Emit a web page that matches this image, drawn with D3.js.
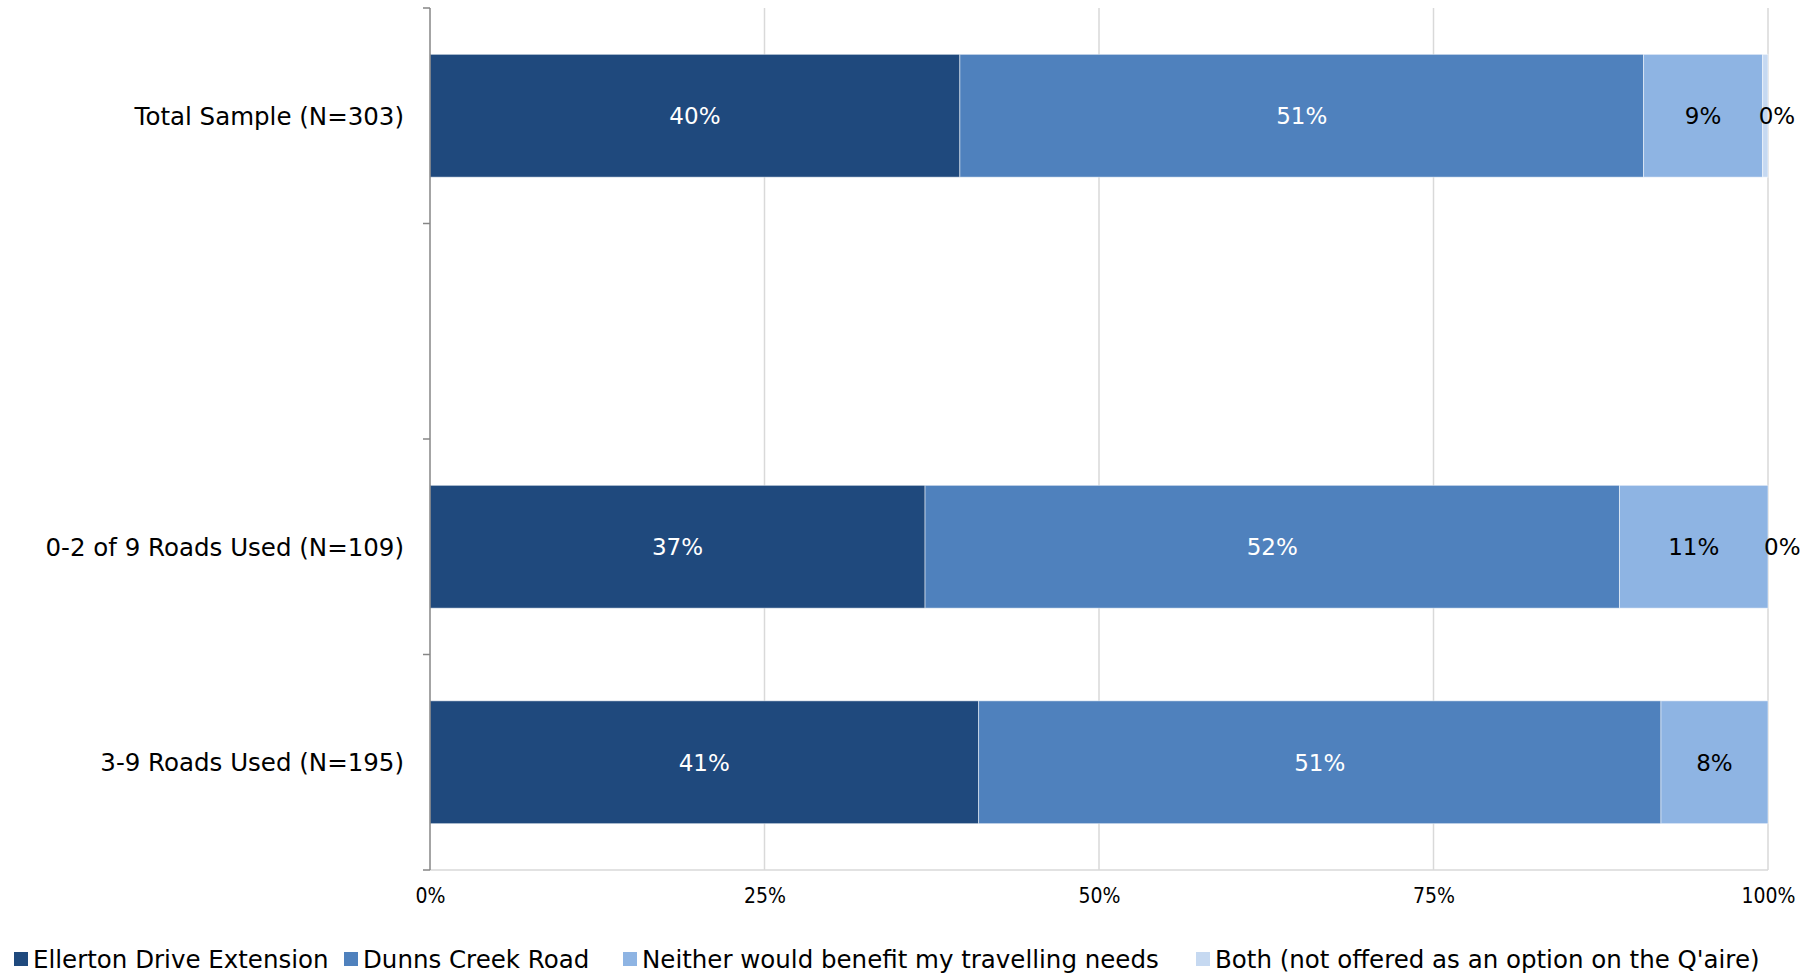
<!DOCTYPE html>
<html>
<head>
<meta charset="utf-8">
<script src="https://cdn.jsdelivr.net/npm/d3@7"></script>
<style>
  html, body { margin: 0; padding: 0; background: #fff; }
  svg { display: block; font-family: "DejaVu Sans", sans-serif; }
</style>
</head>
<body>
<svg id="chart" width="1816" height="975"></svg>
<script>
// Rows of the chart, top to bottom (the empty string is a spacer row)
const categories = ["Total Sample (N=303)", "", "0-2 of 9 Roads Used (N=109)", "3-9 Roads Used (N=195)"];
// Series names for the stacked segments
const seriesNames = [
  "Ellerton Drive Extension",
  "Dunns Creek Road",
  "Neither would benefit my travelling needs",
  "Both (not offered as an option on the Q'aire)"
];
// Percentages per series, one entry per category (null = not shown)
const ellerton = [39.6, null, 37.0, 41.0];
const dunns    = [51.1, null, 51.9, 51.0];
const neither  = [8.9,  null, 11.1, 8.0];
const both     = [0.4,  null, 0.0,  null];
// Axis tick labels
const xTicks = [0, 25, 50, 75, 100];
const xTickLabels = ["0%", "25%", "50%", "75%", "100%"];

const colors = ["#1F497D", "#4F81BD", "#8EB4E3", "#C6D9F1"];
const labelColors = ["#ffffff", "#ffffff", "#000000", "#000000"];
const seriesValues = [ellerton, dunns, neither, both];

const svg = d3.select("#chart");
const plotLeft = 430, plotRight = 1768, plotTop = 8, plotBottom = 870;

const x = d3.scaleLinear().domain([0, 100]).range([plotLeft, plotRight]);
const y = d3.scaleBand().domain(categories).range([plotTop, plotBottom])
  .paddingInner(0.43).paddingOuter(0.215);
const yEdges = d3.scaleBand().domain(categories).range([plotTop, plotBottom]);

// vertical gridlines
svg.append("g")
  .selectAll("line")
  .data(xTicks.filter(d => d > 0))
  .join("line")
  .attr("x1", d => x(d)).attr("x2", d => x(d))
  .attr("y1", plotTop).attr("y2", plotBottom)
  .attr("stroke", "#D9D9D9").attr("stroke-width", 1.5);

// horizontal baseline
svg.append("line")
  .attr("x1", plotLeft).attr("x2", plotRight)
  .attr("y1", plotBottom).attr("y2", plotBottom)
  .attr("stroke", "#D9D9D9").attr("stroke-width", 1.5);

// x axis labels
const xAxis = d3.axisBottom(x).tickValues(xTicks)
  .tickFormat((d, i) => xTickLabels[i]).tickSize(0).tickPadding(18);
const gx = svg.append("g").attr("transform", `translate(0,${plotBottom})`).call(xAxis);
gx.select(".domain").remove();
gx.selectAll("text").attr("font-size", 21).attr("fill", "#000")
  .attr("font-family", "'DejaVu Sans Condensed', 'DejaVu Sans', sans-serif");

// stacked segments
const rows = categories.map((c, i) => {
  let acc = 0;
  return seriesValues.map((vals, s) => {
    const v = vals[i];
    const seg = { cat: c, s, v, x0: acc, x1: acc + (v || 0) };
    acc += (v || 0);
    return seg;
  });
}).flat().filter(d => d.v !== null);

svg.append("g")
  .selectAll("rect")
  .data(rows.filter(d => d.v > 0))
  .join("rect")
  .attr("x", d => x(d.x0))
  .attr("width", d => x(d.x1) - x(d.x0))
  .attr("y", d => y(d.cat))
  .attr("height", y.bandwidth())
  .attr("fill", d => colors[d.s])
  .attr("stroke", "rgba(255,255,255,0.5)")
  .attr("stroke-width", 1);

// segment value labels
const fmt = v => Math.round(v) + "%";
svg.append("g")
  .selectAll("text")
  .data(rows)
  .join("text")
  .attr("x", d => d.s === 3 ? x(d.x0) - 4 : x((d.x0 + d.x1) / 2))
  .attr("y", d => y(d.cat) + y.bandwidth() / 2)
  .attr("dy", "0.36em")
  .attr("text-anchor", d => d.s === 3 ? "start" : "middle")
  .attr("font-size", 23)
  .attr("fill", d => labelColors[d.s])
  .text(d => fmt(d.v));

// y axis line with ticks at row boundaries
svg.append("line")
  .attr("x1", plotLeft).attr("x2", plotLeft)
  .attr("y1", plotTop).attr("y2", plotBottom)
  .attr("stroke", "#868686").attr("stroke-width", 1.5);
const edges = categories.map(c => yEdges(c)).concat([plotBottom]);
svg.append("g")
  .selectAll("line")
  .data(edges)
  .join("line")
  .attr("x1", plotLeft - 7).attr("x2", plotLeft)
  .attr("y1", d => d).attr("y2", d => d)
  .attr("stroke", "#868686").attr("stroke-width", 1.5);

// category labels
svg.append("g")
  .selectAll("text")
  .data(categories)
  .join("text")
  .attr("x", plotLeft - 26)
  .attr("y", d => y(d) + y.bandwidth() / 2)
  .attr("dy", "0.36em")
  .attr("text-anchor", "end")
  .attr("font-size", 24.5)
  .attr("fill", "#000")
  .text(d => d);

// legend
const legendX = [14, 344, 623, 1196];
const legend = svg.append("g").attr("transform", "translate(0,959)");
const items = legend.selectAll("g").data(seriesNames).join("g")
  .attr("transform", (d, i) => `translate(${legendX[i]},0)`);
items.append("rect")
  .attr("x", 0).attr("y", -7).attr("width", 14).attr("height", 14)
  .attr("fill", (d, i) => colors[i]);
items.append("text")
  .attr("x", 19).attr("y", 0).attr("dy", "0.36em")
  .attr("font-size", 24.5).attr("fill", "#000")
  .text(d => d);
</script>
</body>
</html>
